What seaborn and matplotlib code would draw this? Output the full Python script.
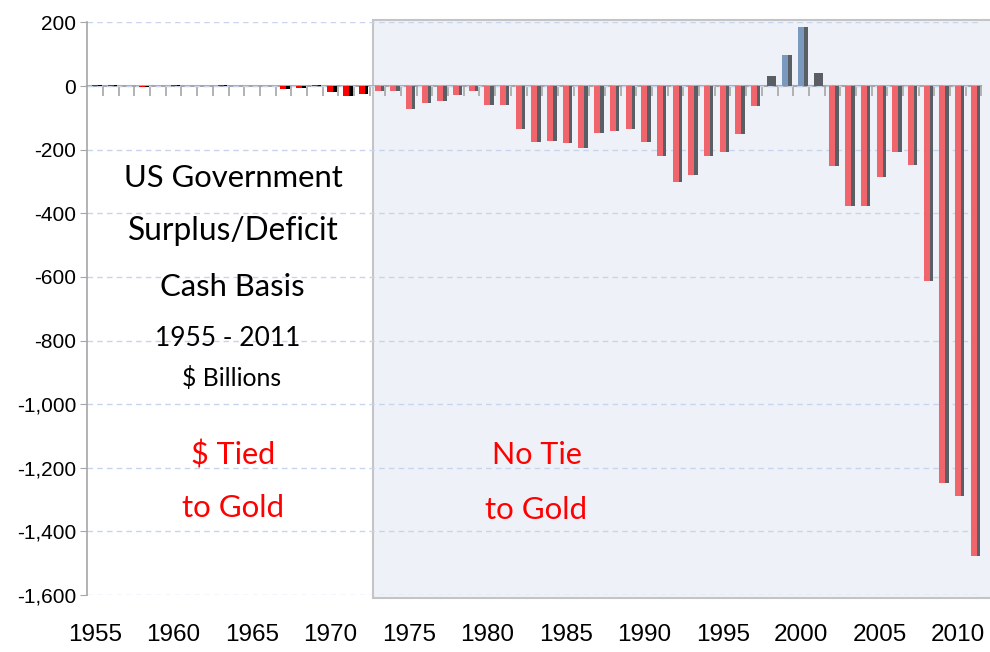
import pandas as pd
import matplotlib.pyplot as plt
import seaborn as sns
from matplotlib.patches import Rectangle
from matplotlib.ticker import FuncFormatter, MultipleLocator

years = list(range(1955, 2012))
values = [5, 5, 0, -4, 0, 4, 0, 0, 4, 0,
          0, 0, -10, -6, 5, -17, -31, -24, -14, -16,
          -71, -54, -47, -29, -16, -59, -59, -136, -176, -172,
          -180, -196, -148, -141, -136, -176, -220, -302, -281, -221,
          -207, -150, -63, 32, 98, 186, 40, -251, -377, -377,
          -286, -207, -247, -614, -1248, -1288, -1477]
label_years = list(range(1955, 2011, 5))
gold_end = 1972  # last year of the dollar tied to gold

def bar_kind(y, v):
    if y <= gold_end:
        return 'gold'
    if y in (1998, 2001):
        return 'small surplus'
    return 'surplus' if v > 0 else 'deficit'

df = pd.DataFrame({'year': years, 'value': values})
df['kind'] = [bar_kind(y, v) for y, v in zip(years, values)]
df['era'] = ['gold' if y <= gold_end else 'free' for y in years]
df['shadow_x'] = df['year'] + 0.22

bar_colors = {'gold': '#ff0000', 'deficit': '#f0646b',
              'surplus': '#7b98be', 'small surplus': '#5a5e65'}
shadow_colors = {'gold': '#000000', 'free': '#5a5e65'}

fig = plt.figure(figsize=(9.9, 6.52), dpi=100)
ax = fig.add_axes([0.0882, 0.0874, 0.9032, 0.8781])

# shadow bars first, then the coloured bars on top
sns.barplot(data=df, x='shadow_x', y='value', hue='era', palette=shadow_colors,
            native_scale=True, width=0.38, errorbar=None, legend=False,
            saturation=1, linewidth=0, ax=ax, zorder=2)
sns.barplot(data=df, x='year', y='value', hue='kind', palette=bar_colors,
            native_scale=True, width=0.38, errorbar=None, legend=False,
            saturation=1, linewidth=0, ax=ax, zorder=3)

ax.set_xlim(1954.5, 2011.5)
ax.set_ylim(-1600, 200)
ax.set_xlabel('')
ax.set_ylabel('')

# shaded "no tie to gold" period
ax.add_patch(Rectangle((1972.69, -1609), 39.5, 1818, facecolor='#eef1f7',
                       edgecolor='#c4c4c4', linewidth=1.5, zorder=0, clip_on=False))

ax.set_axisbelow(True)
ax.yaxis.grid(True, color='#c6d4ec', linestyle=(0, (4, 3)), linewidth=1)
ax.yaxis.set_major_locator(MultipleLocator(200))
ax.yaxis.set_major_formatter(FuncFormatter(lambda v, _: f"{int(round(v)):,}"))
ax.tick_params(axis='y', length=5, color='#a6a6a6', labelsize=15, pad=3)
for lab in ax.get_yticklabels():
    lab.set_family(['Liberation Sans', 'DejaVu Sans'])

for s in ['top', 'right', 'bottom']:
    ax.spines[s].set_visible(False)
ax.spines['left'].set_color('#a6a6a6')
ax.spines['left'].set_linewidth(1.2)

ax.set_xticks(label_years)
ax.set_xticklabels([str(y) for y in label_years], fontsize=17.5,
                   family=['Liberation Sans', 'DejaVu Sans'])
ax.tick_params(axis='x', length=0, pad=21)

# zero line with a tick between every year
zero = ax.secondary_xaxis(1600 / 1800)
zero.set_alignment('bottom')
zero.set_xticks([y + 0.5 for y in years])
zero.tick_params(length=7, color='#a6a6a6', width=1.2, labelbottom=False)
zero.spines['bottom'].set_color('#a6a6a6')
zero.spines['bottom'].set_linewidth(1.5)

def put(x, y, s, size, color='black'):
    fig.text(x / 990, 1 - y / 652, s, ha='center', va='center', fontsize=size,
             color=color, family=['Lato', 'DejaVu Sans'])

put(233, 178, 'US Government', 22.3)
put(233, 231, 'Surplus/Deficit', 22.8)
put(232, 287, 'Cash Basis', 22.3)
put(228, 338, '1955 - 2011', 19)
put(232, 378, '$ Billions', 17.8)
put(233, 455, '$ Tied', 22)
put(233, 508, 'to Gold', 22.5)
put(537, 455, 'No Tie', 22)
put(536, 510, 'to Gold', 22.5)

for t in fig.texts[5:]:
    t.set_color('red')

fig.savefig('out.png', dpi=100)
